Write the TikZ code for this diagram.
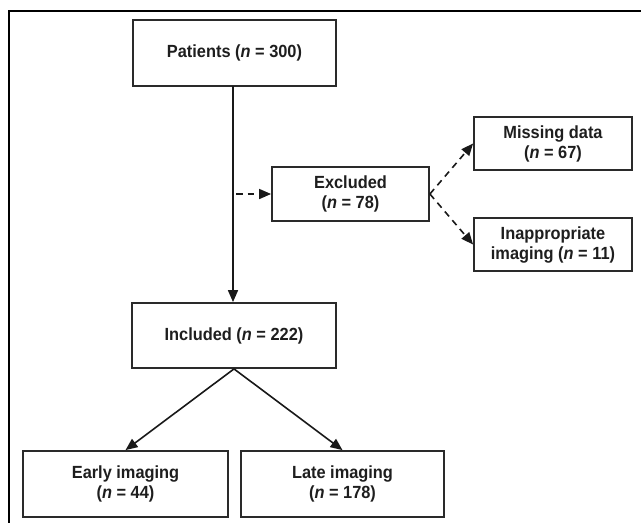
\documentclass[tikz,border=0pt]{standalone}
\usepackage{fontspec}
\setmainfont{Liberation Sans}[FakeStretch=0.93]
\usetikzlibrary{arrows.meta}
\definecolor{boxline}{HTML}{2A2A2A}
\definecolor{txt}{HTML}{1E1E1E}
\tikzset{
  flowbox/.style={draw=boxline, line width=1.8pt, fill=white, align=center,
    inner sep=0pt, text=txt,
    font=\fontsize{17.6}{20}\selectfont\bfseries},
  solidarrow/.style={draw=black!90, line width=1.6pt, -{Triangle[length=12pt,width=10pt]}},
  dasharrow/.style={draw=black!90, line width=1.6pt, dash pattern=on 6.5pt off 5pt, -{Triangle[length=12pt,width=10pt]}},
  frameline/.style={draw=black, line width=2.4pt}
}
\newcommand{\nn}{\textit{n}}
\begin{document}
\begin{tikzpicture}[x=1pt,y=-1pt]
\useasboundingbox (0,0) rectangle (641,523);
\fill[white] (0,0) rectangle (641,523);
\coordinate (ftl) at (9,11);
\coordinate (ftr) at (641,11);
\coordinate (fbl) at (9,523);
\draw[frameline] (ftr) -- (ftl) -- (fbl);

\node[flowbox, minimum width=203pt, minimum height=66pt] (P) at (234.5,53) {Patients (\nn{} = 300)};
\node[flowbox, minimum width=157pt, minimum height=54pt] (E) at (350.5,194) {Excluded\\(\nn{} = 78)};
\node[flowbox, minimum width=158pt, minimum height=53pt] (M) at (553,143.5) {Missing data\\(\nn{} = 67)};
\node[flowbox, minimum width=158pt, minimum height=53pt] (A) at (553,244.5) {Inappropriate\\imaging (\nn{} = 11)};
\node[flowbox, minimum width=204pt, minimum height=65pt] (I) at (234,335.5) {Included (\nn{} = 222)};
\node[flowbox, minimum width=205pt, minimum height=66pt] (Ea) at (125.5,484) {Early imaging\\(\nn{} = 44)};
\node[flowbox, minimum width=203pt, minimum height=66pt] (La) at (342.5,484) {Late imaging\\(\nn{} = 178)};

\coordinate (ps) at (233,86);
\draw[solidarrow] (ps) -- (ps |- I.north);
\coordinate (d1) at (236,194);
\draw[dasharrow] (d1) -- (E.west);
\draw[dasharrow] (E.east) -- (M.west);
\draw[dasharrow] (E.east) -- (A.west);
\draw[solidarrow] (I.south) -- (Ea.north);
\draw[solidarrow] (I.south) -- (La.north);
\end{tikzpicture}
\end{document}
